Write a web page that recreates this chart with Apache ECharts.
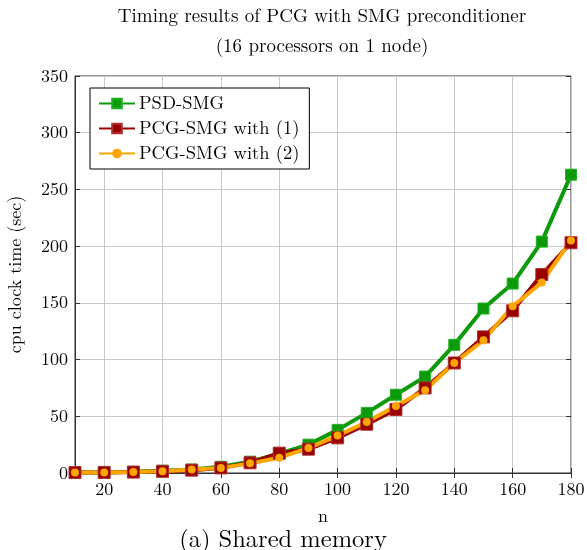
<!DOCTYPE html>
<html>
<head>
<meta charset="utf-8">
<script src="https://cdn.jsdelivr.net/npm/echarts@6/dist/echarts.min.js"></script>
<style>
  html, body { margin:0; padding:0; background:#fff; }
  #chart { width:587px; height:550px; }
</style>
</head>
<body>
<div id="chart"></div>
<script>
const nValues = [10,20,30,40,50,60,70,80,90,100,110,120,130,140,150,160,170,180];
const psdSmg = [0.5,0.5,1,2,3,5.5,10,17,25,38,53,69,85,113,145,167,204,263];
const pcgSmg1 = [0.4,0.5,0.8,1.5,2.5,4.5,9,17.5,21,31,43,56,75,97,120,143,175,203];
const pcgSmg2 = [0.4,0.5,0.8,1.5,3,4.5,8.5,13.5,22,33,45,59,73,97,117,147,168,205];
const xTicks = [20,40,60,80,100,120,140,160,180];
const seriesNames = ['PSD-SMG','PCG-SMG with (1)','PCG-SMG with (2)'];

const font = 'Latin Modern Roman, "DejaVu Serif", serif';
const chart = echarts.init(document.getElementById('chart'));

const pair = arr => nValues.map((n, i) => [n, arr[i]]);

const option = {
  backgroundColor:'#fff',
  animation:false,
  title:[
    { text:'Timing results of PCG with SMG preconditioner\n(16 processors on 1 node)',
      left:322, top:1, padding:0, textAlign:'center',
      textStyle:{ fontFamily:font, fontWeight:'normal', fontSize:19, color:'#000', lineHeight:30 } },
    { text:'(a) Shared memory', left:283, top:526, padding:0, textAlign:'center',
      textStyle:{ fontFamily:font, fontWeight:'normal', fontSize:24.5, color:'#000', lineHeight:27 } }
  ],
  grid:{ left:75, right:16, top:76, bottom:77, outerBoundsMode:'none',
    show:true, borderColor:'#333', borderWidth:1 },
  legend:{
    orient:'vertical', left:90, top:88,
    padding:[6,10,6,8], itemGap:6,
    itemWidth:36, itemHeight:12,
    borderColor:'#000', borderWidth:1, backgroundColor:'#fff',
    textStyle:{ fontFamily:font, fontSize:18.5, color:'#000', padding:[0,0,0,-1] },
    data:seriesNames
  },
  xAxis:[{
    type:'value', min:10, max:180,
    name:'n', nameLocation:'middle', nameGap:34,
    nameTextStyle:{ fontFamily:font, fontSize:18, color:'#000' },
    axisLine:{ show:true, lineStyle:{ color:'#333' } },
    axisTick:{ inside:true, length:5, customValues:xTicks, lineStyle:{ color:'#333' } },
    axisLabel:{ customValues:xTicks, fontFamily:font, fontSize:18, color:'#000', margin:7 },
    splitLine:{ show:true, lineStyle:{ color:'#c8c8c8' } }
  },{
    type:'value', min:10, max:180, position:'top',
    axisLine:{ show:false },
    axisTick:{ inside:true, length:5, customValues:xTicks, lineStyle:{ color:'#333' } },
    axisLabel:{ show:false },
    splitLine:{ show:false }
  }],
  yAxis:[{
    type:'value', min:0, max:350, interval:50,
    name:'cpu clock time (sec)', nameLocation:'middle', nameGap:51,
    nameTextStyle:{ fontFamily:font, fontSize:18, color:'#000' },
    axisLine:{ show:true, lineStyle:{ color:'#333' } },
    axisTick:{ show:true, inside:true, length:5, lineStyle:{ color:'#333' } },
    axisLabel:{ fontFamily:font, fontSize:18, color:'#000', margin:7 },
    splitLine:{ show:true, lineStyle:{ color:'#c8c8c8' } }
  },{
    type:'value', min:0, max:350, interval:50, position:'right',
    axisLine:{ show:false },
    axisTick:{ show:true, inside:true, length:5, lineStyle:{ color:'#333' } },
    axisLabel:{ show:false },
    splitLine:{ show:false }
  }],
  series:[
    { name:seriesNames[0], type:'line', data:pair(psdSmg),
      symbol:'rect', symbolSize:11,
      lineStyle:{ width:4, color:'#0a9a0a' },
      itemStyle:{ color:'#0a9a0a', borderColor:'#22b022', borderWidth:1 } },
    { name:seriesNames[1], type:'line', data:pair(pcgSmg1),
      symbol:'rect', symbolSize:12,
      lineStyle:{ width:4, color:'#990000' },
      itemStyle:{ color:'#990000', borderColor:'#b03030', borderWidth:1 } },
    { name:seriesNames[2], type:'line', data:pair(pcgSmg2),
      symbol:'circle', symbolSize:8,
      lineStyle:{ width:4, color:'#ffa500' },
      itemStyle:{ color:'#ffa500' } }
  ]
};
chart.setOption(option);
</script>
</body>
</html>
